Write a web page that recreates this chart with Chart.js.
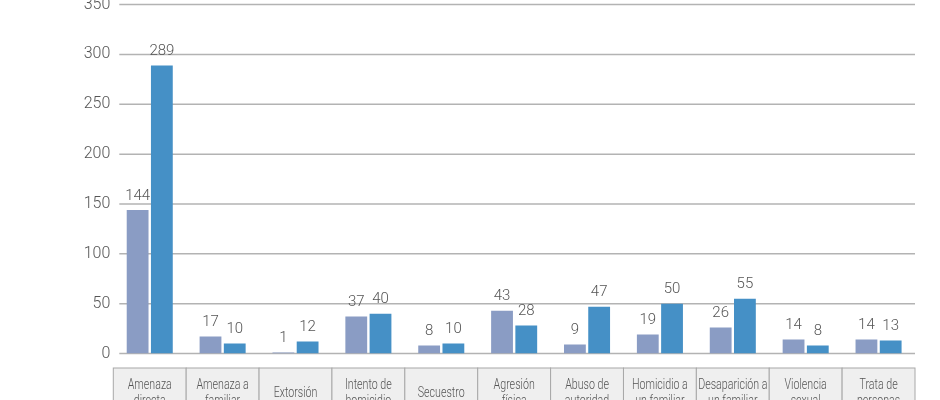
<!DOCTYPE html>
<html>
<head>
<meta charset="utf-8">
<script src="https://cdn.jsdelivr.net/npm/chart.js@4.4.1/dist/chart.umd.min.js"></script>
<style>
html,body{margin:0;padding:0;background:#fff;overflow:hidden;width:940px;height:400px;}
#wrap{position:absolute;left:0;top:-8px;width:940px;height:430px;}
</style>
</head>
<body>
<div id="wrap"><canvas id="c"></canvas></div>
<script>
const categories = [
  ["Amenaza","directa"],
  ["Amenaza a","familiar"],
  ["Extorsión"],
  ["Intento de","homicidio"],
  ["Secuestro"],
  ["Agresión","física"],
  ["Abuso de","autoridad"],
  ["Homicidio a","un familiar"],
  ["Desaparición a","un familiar"],
  ["Violencia","sexual"],
  ["Trata de","personas"]
];
const seriesA = [144, 17, 1, 37, 8, 43, 9, 19, 26, 14, 14];
const seriesB = [289, 10, 12, 40, 10, 28, 47, 50, 55, 8, 13];
const yTicks = [0, 50, 100, 150, 200, 250, 300, 350];

const colorA = '#8a9cc4';
const colorB = '#4590c6';
const gridColor = '#b3b3b3';
const textColor = '#555555';
const numFont = '300 15px Roboto, "Liberation Sans", sans-serif';

const decor = {
  id: 'decor',
  beforeDatasetsDraw(chart) {
    const ctx = chart.ctx, y = chart.scales.y, a = chart.chartArea;
    ctx.save();
    ctx.strokeStyle = gridColor;
    ctx.lineWidth = 1.5;
    yTicks.forEach(v => {
      const py = y.getPixelForValue(v);
      ctx.beginPath();
      ctx.moveTo(a.left + 6, py);
      ctx.lineTo(a.right, py);
      ctx.stroke();
    });
    ctx.restore();
  },
  afterDatasetsDraw(chart) {
    const ctx = chart.ctx, x = chart.scales.x, a = chart.chartArea;
    ctx.save();
    ctx.font = numFont;
    ctx.fillStyle = textColor;
    ctx.textAlign = 'center';
    ctx.textBaseline = 'middle';
    chart.data.datasets.forEach((ds, di) => {
      const meta = chart.getDatasetMeta(di);
      meta.data.forEach((bar, i) => {
        ctx.fillText(String(ds.data[i]), bar.x, bar.y - 14);
      });
    });
    const n = categories.length;
    const w = (a.right - a.left) / n;
    const top = a.bottom + 14.5;
    ctx.lineWidth = 1;
    categories.forEach((lines, i) => {
      const cx = x.getPixelForValue(i);
      const left = cx - w / 2;
      ctx.fillStyle = '#efefef';
      ctx.fillRect(left, top, w, 80);
      ctx.strokeStyle = '#a8a8a8';
      ctx.strokeRect(left, top, w, 80);
      ctx.fillStyle = textColor;
      ctx.font = '300 15px Roboto, sans-serif';
      const lh = 16;
      const mid = top + 25;
      const start = mid - (lines.length - 1) * lh / 2;
      lines.forEach((t, k) => {
        ctx.save();
        ctx.translate(cx, start + k * lh);
        ctx.scale(0.71, 1);
        ctx.fillText(t, 0, 0);
        ctx.restore();
      });
    });
    ctx.restore();
  }
};

new Chart(document.getElementById('c'), {
  type: 'bar',
  data: {
    labels: categories,
    datasets: [
      { data: seriesA, backgroundColor: colorA, borderWidth: 0 },
      { data: seriesB, backgroundColor: colorB, borderWidth: 0 }
    ]
  },
  options: {
    responsive: true,
    maintainAspectRatio: false,
    animation: false,
    events: [],
    categoryPercentage: 0.665,
    barPercentage: 0.9,
    layout: { padding: { top: 4, right: 25, bottom: 68.5, left: 0 } },
    plugins: { legend: { display: false }, tooltip: { enabled: false } },
    scales: {
      x: { display: false },
      y: {
        min: 0, max: 350,
        afterFit(scale) { scale.width = 113.3; },
        afterBuildTicks(scale) { scale.ticks = yTicks.map(v => ({ value: v })); },
        grid: { display: false, drawTicks: false },
        border: { display: false },
        ticks: { color: textColor, font: { family: 'Roboto, "Liberation Sans", sans-serif', size: 16, weight: '300' }, padding: 3 }
      }
    }
  },
  plugins: [decor]
});
</script>
</body>
</html>
